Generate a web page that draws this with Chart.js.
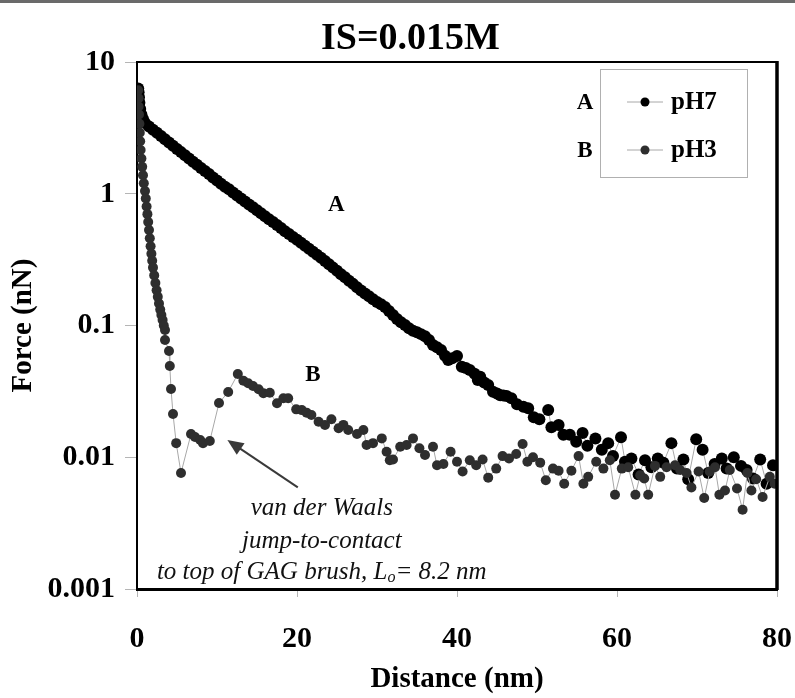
<!DOCTYPE html>
<html>
<head>
<meta charset="utf-8">
<script src="https://cdn.jsdelivr.net/npm/chart.js@4.4.0/dist/chart.umd.min.js"></script>
<style>
  html, body { margin: 0; padding: 0; background: #fff; }
  #wrap { width: 795px; height: 698px; }
</style>
</head>
<body>
<div id="wrap"><canvas id="forceChart" width="795" height="698"></canvas></div>
<script>
// Force vs distance, IS=0.015M

const serif = "'Liberation Serif', 'Times New Roman', serif";

// pH7 (curve A)
const ph7X = [0.15, 0.2, 0.25, 0.3, 0.4, 0.55, 0.75, 1.0, 1.5, 2.0, 2.5, 3.0, 3.5, 4.0, 4.5, 5.0, 5.5, 6.0,
    6.5, 7.0, 7.5, 8.0, 8.5, 9.0, 9.5, 10.0, 10.5, 11.0, 11.5, 12.0, 12.5, 13.0, 13.5, 14.0, 14.5, 15.0, 15.5, 16.0,
    16.5, 17.0, 17.5, 18.0, 18.5, 19.0, 19.5, 20.0, 20.5, 21.0, 21.5, 22.0, 22.5, 23.0, 23.5, 24.0, 24.5, 25.0, 25.5, 26.0,
    26.5, 27.0, 27.5, 28.0, 28.5, 29.0, 29.5, 30.0, 30.5, 31.0, 31.5, 32.0, 32.5, 33.0, 33.5, 34.0, 34.5, 35.0, 35.5, 36.0,
    36.5, 37.0, 37.5, 38.0, 38.5, 38.9, 39.4, 40.0, 40.6, 41.1, 41.6, 42.2, 42.6, 42.9, 43.4, 43.9, 44.5, 45.0, 45.4, 45.8,
    46.2, 46.8, 47.5, 48.3, 48.9, 49.6, 50.3, 51.4, 51.8, 52.7, 53.3, 54.1, 54.9, 55.7, 56.3, 57.3, 58.1, 58.9, 59.5, 60.5,
    61.0, 61.8, 62.7, 63.5, 64.3, 65.1, 65.8, 66.8, 67.5, 68.3, 68.9, 69.9, 70.7, 71.4, 72.2, 73.1, 73.7, 74.6, 75.5, 76.2,
    77.0, 77.9, 78.7, 79.5];
const ph7Force = [6.3, 5.9, 5.4, 4.9, 4.4, 4.0, 3.7, 3.44, 3.24, 3.06, 2.90, 2.74, 2.59, 2.45, 2.31, 2.19, 2.07, 1.96,
    1.85, 1.75, 1.66, 1.57, 1.49, 1.41, 1.33, 1.26, 1.19, 1.13, 1.08, 1.02, 0.97, 0.92, 0.875, 0.83, 0.79, 0.75, 0.71, 0.675,
    0.64, 0.61, 0.58, 0.55, 0.52, 0.495, 0.47, 0.447, 0.424, 0.403, 0.382, 0.363, 0.345, 0.327, 0.309, 0.292, 0.275, 0.26, 0.245, 0.232,
    0.219, 0.207, 0.195, 0.184, 0.175, 0.167, 0.158, 0.151, 0.145, 0.138, 0.129, 0.12, 0.112, 0.106, 0.101, 0.0955, 0.0912, 0.089, 0.086, 0.083,
    0.0776, 0.0711, 0.0684, 0.0653, 0.0589, 0.0547, 0.0565, 0.0587, 0.0487, 0.0475, 0.0459, 0.043, 0.0385, 0.0408, 0.037, 0.0353, 0.0314, 0.0305, 0.0296, 0.0294,
    0.0292, 0.028, 0.0253, 0.0242, 0.0235, 0.0201, 0.0194, 0.0228, 0.0169, 0.0176, 0.0148, 0.0148, 0.0131, 0.0153, 0.0122, 0.0139, 0.0114, 0.0128, 0.0102, 0.0142,
    0.00925, 0.0098, 0.0074, 0.0095, 0.0084, 0.0098, 0.0091, 0.0128, 0.0082, 0.0096, 0.0068, 0.0137, 0.0114, 0.0076, 0.0089, 0.0098, 0.0082, 0.0100, 0.0086, 0.0080,
    0.0069, 0.0096, 0.0063, 0.0087];

// pH3 (curve B)
const ph3X = [0.15, 0.2, 0.2, 0.25, 0.3, 0.35, 0.4, 0.45, 0.55, 0.65, 0.75, 0.85, 1.0, 1.1, 1.2, 1.3, 1.4, 1.5, 1.6, 1.7,
    1.8, 1.9, 2.0, 2.15, 2.3, 2.45, 2.6, 2.75, 2.9, 3.05, 3.2, 3.35, 3.5, 3.5, 4.0, 4.1, 4.25, 4.5, 4.9, 5.5,
    6.75, 7.25, 7.9, 8.25, 9.1, 10.25, 11.4, 12.6, 13.3, 13.9, 14.5, 15.2, 15.8, 16.6, 17.5, 18.3, 18.9, 19.9, 20.6, 21.2,
    21.8, 22.7, 23.5, 24.3, 25.2, 25.8, 26.4, 27.5, 28.3, 28.7, 29.5, 30.6, 31.2, 31.6, 32.0, 32.9, 33.7, 34.5, 35.3, 36.0,
    37.0, 37.5, 38.3, 39.2, 40.0, 40.7, 41.6, 42.4, 43.2, 43.9, 44.9, 45.7, 46.5, 47.4, 48.2, 48.8, 49.5, 50.4, 51.1, 52.0,
    52.7, 53.4, 54.3, 55.2, 55.8, 56.4, 57.4, 58.3, 59.1, 59.75, 60.6, 61.4, 62.3, 62.9, 63.4, 63.9, 64.75, 65.4, 66.2, 67.25,
    67.9, 68.7, 69.3, 70.2, 70.9, 71.6, 72.25, 72.8, 73.5, 74.1, 75.0, 75.7, 76.3, 76.8, 77.4, 78.2, 79.1, 79.7];
const ph3Force = [6.1, 5.3, 4.6, 4.0, 3.4, 2.9, 2.5, 2.15, 1.85, 1.6, 1.38, 1.2, 1.05, 0.92, 0.8, 0.7, 0.61, 0.53, 0.46, 0.4,
    0.35, 0.31, 0.275, 0.24, 0.21, 0.185, 0.165, 0.147, 0.132, 0.12, 0.11, 0.1, 0.0925, 0.0776, 0.064, 0.0493, 0.033, 0.0213, 0.0128, 0.0076,
    0.015, 0.01425, 0.0135, 0.0128, 0.0133, 0.0258, 0.0313, 0.0428, 0.0381, 0.0364, 0.0347, 0.0328, 0.0306, 0.0309, 0.0257, 0.028, 0.028, 0.0231, 0.0228, 0.0218,
    0.0209, 0.0186, 0.0176, 0.0194, 0.0166, 0.0176, 0.0161, 0.015, 0.0161, 0.0124, 0.0128, 0.0139, 0.011, 0.0095, 0.0096, 0.012, 0.0124, 0.0139, 0.0117, 0.0104,
    0.012, 0.0087, 0.0089, 0.011, 0.00925, 0.0078, 0.0095, 0.0087, 0.0096, 0.007, 0.0082, 0.0102, 0.0098, 0.0106, 0.0126, 0.00925, 0.01, 0.0091, 0.0067, 0.0082,
    0.0079, 0.0063, 0.0079, 0.0102, 0.0063, 0.0071, 0.00925, 0.0082, 0.0095, 0.0052, 0.0082, 0.0084, 0.0052, 0.0073, 0.0069, 0.0052, 0.0086, 0.0071, 0.0084, 0.0087,
    0.008, 0.0076, 0.0059, 0.0078, 0.0049, 0.0078, 0.0084, 0.0052, 0.0056, 0.008, 0.0058, 0.0040, 0.0076, 0.0056, 0.0068, 0.005, 0.0071, 0.0063];

// Axis ticks
const forceTicks = [10, 1, 0.1, 0.01, 0.001];
const forceTickLabels = ['10', '1', '0.1', '0.01', '0.001'];
const distanceTicks = [0, 20, 40, 60, 80];

// Text annotations (anchored in data units)
const curveLabels = [
    { text: 'A', x: 24.9, y: 0.82 },
    { text: 'B', x: 22.0, y: 0.042 }
];
const noteLines = ['van der Waals', 'jump-to-contact', 'to top of GAG brush, L', '= 8.2 nm'];
const arrowFrom = { x: 20.1, y: 0.0059 };
const arrowTo = { x: 11.3, y: 0.0135 };

function toPoints(xs, ys) {
    return xs.map((x, i) => ({ x: x, y: ys[i] }));
}

// Frame, legend, annotations
const decorPlugin = {
    id: 'decor',
    afterDraw(chart) {
        const ctx = chart.ctx;
        const area = chart.chartArea;
        const xs = chart.scales.x;
        const ys = chart.scales.y;
        ctx.save();

        // scan edge at top
        ctx.fillStyle = '#6a6a6a';
        ctx.fillRect(0, 0, 795, 3);

        // top and right frame lines
        ctx.strokeStyle = '#000';
        ctx.lineWidth = 2;
        ctx.beginPath();
        ctx.moveTo(area.left, area.top);
        ctx.lineTo(area.right, area.top);
        ctx.stroke();
        ctx.lineWidth = 3.5;
        ctx.beginPath();
        ctx.moveTo(area.right, area.top - 1);
        ctx.lineTo(area.right, area.bottom + 1);
        ctx.stroke();

        // legend box
        const lx = 600, ly = 69, lw = 147, lh = 108;
        ctx.fillStyle = '#fff';
        ctx.fillRect(lx, ly, lw, lh);
        ctx.strokeStyle = '#b0b0b0';
        ctx.lineWidth = 1;
        ctx.strokeRect(lx + 0.5, ly + 0.5, lw, lh);
        const rows = [ly + 33, ly + 81];
        const side = ['A', 'B'];
        chart.data.datasets.forEach((ds, i) => {
            const y = rows[i];
            ctx.strokeStyle = '#a8a8a8';
            ctx.lineWidth = 1;
            ctx.beginPath();
            ctx.moveTo(627, y);
            ctx.lineTo(663, y);
            ctx.stroke();
            ctx.fillStyle = ds.pointBackgroundColor;
            ctx.beginPath();
            ctx.arc(645, y, 4.5, 0, Math.PI * 2);
            ctx.fill();
            ctx.fillStyle = '#000';
            ctx.font = 'bold 25px ' + serif;
            ctx.textAlign = 'left';
            ctx.textBaseline = 'middle';
            ctx.fillText(ds.label, 671, y + 1);
            ctx.font = 'bold 23px ' + serif;
            ctx.textAlign = 'center';
            ctx.fillText(side[i], 585, y + 1);
        });

        // curve labels
        ctx.font = 'bold 23px ' + serif;
        ctx.textAlign = 'center';
        ctx.textBaseline = 'middle';
        ctx.fillStyle = '#000';
        curveLabels.forEach(l => {
            ctx.fillText(l.text, xs.getPixelForValue(l.x), ys.getPixelForValue(l.y));
        });

        // arrow
        const x1 = xs.getPixelForValue(arrowFrom.x), y1 = ys.getPixelForValue(arrowFrom.y);
        const x2 = xs.getPixelForValue(arrowTo.x), y2 = ys.getPixelForValue(arrowTo.y);
        const ang = Math.atan2(y2 - y1, x2 - x1);
        ctx.strokeStyle = '#3a3a3a';
        ctx.fillStyle = '#3a3a3a';
        ctx.lineWidth = 2;
        ctx.beginPath();
        ctx.moveTo(x1, y1);
        ctx.lineTo(x2 - 10 * Math.cos(ang), y2 - 10 * Math.sin(ang));
        ctx.stroke();
        ctx.beginPath();
        ctx.moveTo(x2, y2);
        ctx.lineTo(x2 - 16 * Math.cos(ang) + 7 * Math.sin(ang), y2 - 16 * Math.sin(ang) - 7 * Math.cos(ang));
        ctx.lineTo(x2 - 16 * Math.cos(ang) - 7 * Math.sin(ang), y2 - 16 * Math.sin(ang) + 7 * Math.cos(ang));
        ctx.closePath();
        ctx.fill();

        // note text
        const cx = xs.getPixelForValue(23.1);
        const baseY = ys.getPixelForValue(0.0041);
        const noteFont = 'italic 25px ' + serif;
        const subFont = 'italic 16px ' + serif;
        ctx.fillStyle = '#111';
        ctx.font = noteFont;
        ctx.textAlign = 'center';
        ctx.fillText(noteLines[0], cx, baseY);
        ctx.fillText(noteLines[1], cx, baseY + 33);
        // last line with subscript o
        const y3 = baseY + 64;
        const w1 = ctx.measureText(noteLines[2]).width;
        ctx.font = subFont;
        const ws = ctx.measureText('o').width;
        ctx.font = noteFont;
        const w2 = ctx.measureText(noteLines[3]).width;
        let sx = cx - (w1 + ws + w2) / 2;
        ctx.textAlign = 'left';
        ctx.fillText(noteLines[2], sx, y3);
        sx += w1;
        ctx.font = subFont;
        ctx.fillText('o', sx, y3 + 6);
        sx += ws;
        ctx.font = noteFont;
        ctx.fillText(noteLines[3], sx, y3);

        ctx.restore();
    }
};

const ctx = document.getElementById('forceChart').getContext('2d');
new Chart(ctx, {
    type: 'line',
    data: {
        datasets: [{
            label: 'pH7',
            data: toPoints(ph7X, ph7Force),
            borderColor: '#a8a8a8',
            borderWidth: 1,
            pointBackgroundColor: '#000',
            pointBorderColor: '#000',
            pointRadius: 6,
            pointBorderWidth: 0,
            tension: 0,
            order: 2
        }, {
            label: 'pH3',
            data: toPoints(ph3X, ph3Force),
            borderColor: '#a8a8a8',
            borderWidth: 1,
            pointBackgroundColor: '#2e2e2e',
            pointBorderColor: '#2e2e2e',
            pointRadius: 5,
            pointBorderWidth: 0,
            tension: 0,
            order: 1
        }]
    },
    options: {
        responsive: false,
        animation: false,
        devicePixelRatio: 1,
        layout: { padding: { left: 44, right: 18, top: 0, bottom: 0 } },
        plugins: {
            legend: { display: false },
            tooltip: { enabled: false },
            title: {
                display: true,
                text: 'IS=0.015M',
                color: '#000',
                font: { family: serif, size: 38, weight: 'bold', lineHeight: 1.2 },
                padding: { top: 16, bottom: 0.4 }
            }
        },
        scales: {
            x: {
                type: 'linear',
                min: 0,
                max: 80,
                afterBuildTicks: s => { s.ticks = distanceTicks.map(v => ({ value: v })); },
                afterFit: s => { s.height = 109; s.paddingLeft = 0; s.paddingRight = 0; },
                border: { display: true, color: '#000', width: 3 },
                grid: { drawOnChartArea: false, drawTicks: true, tickLength: 8, color: '#b5b5b5' },
                ticks: {
                    color: '#000',
                    padding: 24,
                    maxRotation: 0,
                    font: { family: serif, size: 30, weight: 'bold' }
                },
                title: {
                    display: true,
                    text: 'Distance (nm)',
                    color: '#000',
                    font: { family: serif, size: 29, weight: 'bold', lineHeight: 1.2 },
                    padding: { top: 0, bottom: 1 }
                }
            },
            y: {
                type: 'logarithmic',
                min: 0.001,
                max: 10,
                afterBuildTicks: s => { s.ticks = forceTicks.map(v => ({ value: v })); },
                afterFit: s => { s.width = 93; },
                border: { display: true, color: '#000', width: 2 },
                grid: { drawOnChartArea: false, drawTicks: true, tickLength: 12, color: '#b5b5b5' },
                ticks: {
                    color: '#000',
                    padding: 10,
                    font: { family: serif, size: 30, weight: 'bold' },
                    callback: (v) => {
                        const i = forceTicks.indexOf(v);
                        return i >= 0 ? forceTickLabels[i] : '';
                    }
                },
                title: {
                    display: false
                }
            }
        }
    },
    plugins: [decorPlugin, {
        id: 'yTitle',
        afterDraw(chart) {
            // y axis title sits in the left margin, outside the padded layout box
            const c = chart.ctx;
            const a = chart.chartArea;
            c.save();
            c.translate(24, (a.top + a.bottom) / 2);
            c.rotate(-Math.PI / 2);
            c.font = 'bold 29px ' + serif;
            c.fillStyle = '#000';
            c.textAlign = 'center';
            c.textBaseline = 'middle';
            c.fillText('Force (nN)', 0, 0);
            c.restore();
        }
    }]
});
</script>
</body>
</html>
